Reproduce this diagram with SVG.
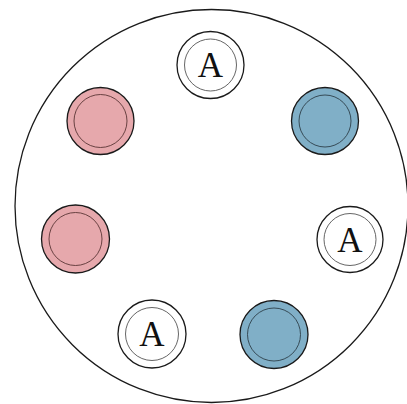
<svg xmlns="http://www.w3.org/2000/svg" width="407" height="404" viewBox="0 0 407 404">
<style>
.outer{stroke:#1a1a1a;stroke-width:1.3}
.inner{fill:none;stroke-width:0.9}
.w .outer{fill:#fff}
.w .inner{stroke:#555}
.p .outer{fill:#e6a8ac}
.p .inner{stroke:#5a3535}
.b .outer{fill:#80afc7}
.b .inner{stroke:#2e3f4a}
.lbl{font-family:"Liberation Serif","DejaVu Serif",serif;font-size:35px;text-anchor:middle;fill:#111}
</style>
<rect width="407" height="404" fill="#fff"/>
<g id="container"><circle cx="211.5" cy="206" r="196.5" fill="none" stroke="#1a1a1a" stroke-width="1.3"/></g>
<g id="connectors"/>
<g id="n1" class="w"><circle class="outer" cx="210.5" cy="65" r="33.5"/><circle class="inner" cx="210.5" cy="65" r="26"/><text class="lbl" x="210.5" y="76.5">A</text></g>
<g id="n2" class="b"><circle class="outer" cx="325" cy="121" r="33.5"/><circle class="inner" cx="325" cy="121" r="26"/></g>
<g id="n3" class="w"><circle class="outer" cx="350" cy="239.5" r="33"/><circle class="inner" cx="350" cy="239.5" r="26"/><text class="lbl" x="350" y="251.5">A</text></g>
<g id="n4" class="b"><circle class="outer" cx="274" cy="334.5" r="34"/><circle class="inner" cx="274" cy="334.5" r="26.5"/></g>
<g id="n5" class="w"><circle class="outer" cx="152" cy="334" r="34"/><circle class="inner" cx="152" cy="334" r="26.5"/><text class="lbl" x="152" y="346">A</text></g>
<g id="n6" class="p"><circle class="outer" cx="75.5" cy="239" r="34"/><circle class="inner" cx="75.5" cy="239" r="26.5"/></g>
<g id="n7" class="p"><circle class="outer" cx="100.5" cy="121" r="33.5"/><circle class="inner" cx="100.5" cy="121" r="26.5"/></g>
</svg>
